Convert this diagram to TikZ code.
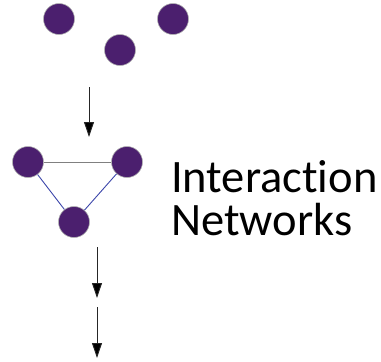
\documentclass[tikz,border=0pt]{standalone}
\usepackage{fontspec}
\setmainfont{Carlito}[Ligatures={NoCommon,NoRare,NoDiscretionary}]
\usetikzlibrary{arrows.meta}
\definecolor{nodepurple}{RGB}{75,31,110}
\definecolor{edgeblue}{RGB}{60,70,170}
\begin{document}
\begin{tikzpicture}[x=1pt,y=-1pt,
  dot/.style={circle,fill=nodepurple,draw=gray!60,line width=0.6pt,minimum size=31pt,inner sep=0pt},
  flow/.style={draw=black!85,line width=0.9pt,-{Triangle[width=10pt,length=15pt,fill=black]}},
  grayedge/.style={draw=gray,line width=0.9pt},
  blueedge/.style={draw=edgeblue,line width=0.9pt},
  label/.style={anchor=base west,inner sep=0pt,font=\fontsize{46.5}{43}\selectfont}]
\useasboundingbox (0,0) rectangle (381,362);
% top three unconnected nodes
\node[dot] (t1) at (59,19) {};
\node[dot] (t2) at (173,19) {};
\node[dot] (t3) at (120,50) {};
% arrow 1
\coordinate (a1s) at (89,87);
\coordinate (a1e) at (89,137);
\draw[flow] (a1s) -- (a1e);
% triangle network
\node[dot] (n1) at (28,162) {};
\node[dot] (n2) at (127,162) {};
\node[dot] (n3) at (74,222) {};
\draw[grayedge] (n1) -- (n2);
\draw[blueedge] (n1) -- (n3);
\draw[blueedge] (n2) -- (n3);
% label
\node[label] (l1) at (171,192) {Interac\kern0pt tion};
\node[label] (l2) at (171,235) {Networks};
% arrows 2,3
\coordinate (a2s) at (97,247);
\coordinate (a2e) at (97,298);
\coordinate (a3s) at (97,307);
\coordinate (a3e) at (97,358);
\draw[flow] (a2s) -- (a2e);
\draw[flow] (a3s) -- (a3e);
\end{tikzpicture}
\end{document}
